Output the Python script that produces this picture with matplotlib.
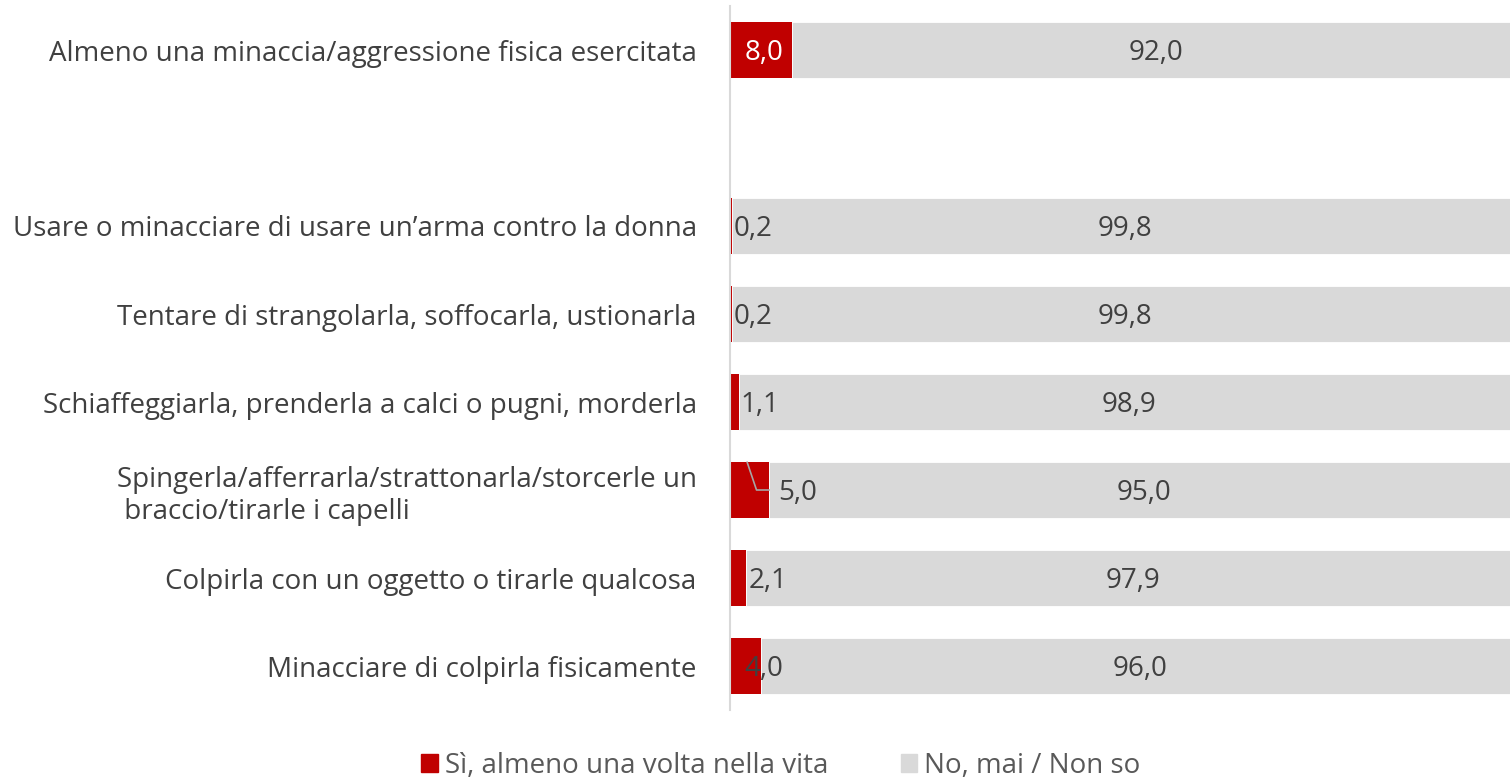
import matplotlib
matplotlib.use("Agg")
import matplotlib.pyplot as plt
import numpy as np

# categories from top to bottom ("" = empty slot in the chart)
categories = [
    "Almeno una minaccia/aggressione fisica esercitata",
    "",
    "Usare o minacciare di usare un\u2019arma contro la donna",
    "Tentare di strangolarla, soffocarla, ustionarla",
    "Schiaffeggiarla, prenderla a calci o pugni, morderla",
    "Spingerla/afferrarla/strattonarla/storcerle un\n braccio/tirarle i capelli",
    "Colpirla con un oggetto o tirarle qualcosa",
    "Minacciare di colpirla fisicamente",
]
si = [8.0, None, 0.2, 0.2, 1.1, 5.0, 2.1, 4.0]
no = [92.0, None, 99.8, 99.8, 98.9, 95.0, 97.9, 96.0]
legend_labels = ["Sì, almeno una volta nella vita", "No, mai / Non so"]

RED = "#C00000"
GREY = "#D9D9D9"
TXT = "#404040"

plt.rcParams["font.family"] = ["Open Sans", "DejaVu Sans"]
FS = 20

fig = plt.figure(figsize=(15.11, 7.82), dpi=100)
ax = fig.add_axes([730 / 1511, 1 - 710 / 782, 780 / 1511, 704 / 782])

n = len(categories)
ypos = np.arange(n)
for i in range(n):
    if si[i] is None:
        continue
    ax.barh(i, si[i], height=0.63, color=RED, edgecolor="none")
    ax.barh(i, no[i], left=si[i], height=0.63, color=GREY, edgecolor="white", linewidth=0.6)

    s_txt = f"{si[i]:.1f}".replace(".", ",")
    n_txt = f"{no[i]:.1f}".replace(".", ",")
    kw = dict(fontsize=FS, va="center_baseline")
    if i == 0:
        ax.text(si[i] - 1.2, i, s_txt, color="white", ha="right", **kw)
    elif si[i] == 5.0:
        ax.text(si[i] + 1.2, i, s_txt, color=TXT, ha="left", **kw)
        ax.plot([2.2, 3.4, 5.0], [i - 0.315, i, i], color="#A6A6A6", lw=1.2, zorder=3)
    elif si[i] == 4.0:
        ax.text(1.8, i, s_txt, color=TXT, ha="left", **kw)
    else:
        ax.text(si[i] + 0.3, i, s_txt, color=TXT, ha="left", **kw)
    ax.text(si[i] + no[i] / 2 + 0.6, i, n_txt, color=TXT, ha="center", **kw)

ax.set_ylim(n - 0.5, -0.5)
ax.set_xlim(0, 100)
ax.set_yticks(ypos)
ax.set_yticklabels(categories, fontsize=FS, color=TXT)
for lbl in ax.get_yticklabels():
    lbl.set_multialignment("left")
ax.tick_params(axis="y", length=0, pad=24)
ax.set_xticks([])
for sp in ["top", "right", "bottom"]:
    ax.spines[sp].set_visible(False)
ax.spines["left"].set_color("#D9D9D9")
ax.spines["left"].set_linewidth(1.5)

handles = [plt.Rectangle((0, 0), 1, 1, color=RED), plt.Rectangle((0, 0), 1, 1, color=GREY)]
fig.legend(handles, legend_labels, loc="center", bbox_to_anchor=(781 / 1511, 1 - 766 / 782),
           ncol=2, frameon=False, fontsize=FS, handlelength=0.6, handleheight=0.6,
           handletextpad=0.25, columnspacing=2.6, labelcolor="#595959")

fig.savefig("out.png", dpi=100)
